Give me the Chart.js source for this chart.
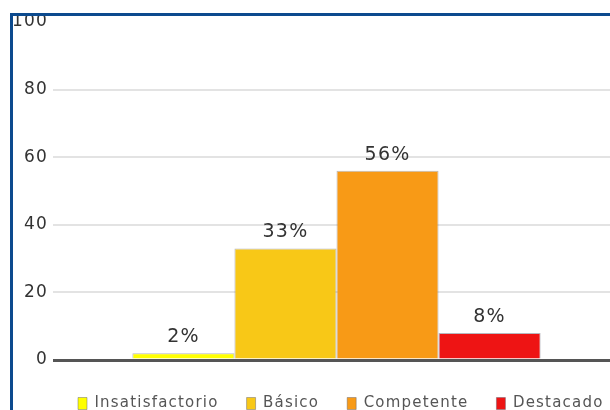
<!DOCTYPE html>
<html lang="es">

<head>
    <meta charset="UTF-8">
    <title>Niveles de logro</title>
    <style>
        body {
            margin: 0;
            background: #ffffff;
            overflow: hidden;
        }

        .marco {
            position: absolute;
            left: 10px;
            top: 13px;
            width: 700px;
            height: 500px;
            border: 3px solid #0c4a8e;
            pointer-events: none;
            z-index: 2;
        }

        .contenedor-grafico {
            position: absolute;
            left: 0;
            top: 0;
            width: 625px;
            height: 413px;
        }
    </style>
</head>

<body>
    <div class="marco"></div>
    <div class="contenedor-grafico">
        <canvas id="graficoNiveles"></canvas>
    </div>

    <script src="https://cdn.jsdelivr.net/npm/chart.js"></script>
    <script>
        const niveles = ['Insatisfactorio', 'Básico', 'Competente', 'Destacado'];
        const porcentajes = [2, 33, 56, 8];
        const coloresNivel = ['#ffff00', '#f8c817', '#f89a16', '#ee1414'];
        const ticksEjeY = [0, 20, 40, 60, 80, 100];

        // el texto del original sale algo espaciado
        const espaciado = {
            id: 'espaciado',
            beforeLayout(chart) {
                chart.ctx.letterSpacing = '1.2px';
            },
            afterLayout(chart) {
                // leyenda corrida a la derecha y un poco más abajo, como en la imagen
                const leyenda = chart.legend;
                leyenda.left += 50;
                leyenda.right += 50;
                leyenda.top += 8;
                leyenda.bottom += 8;
            },
            beforeDraw(chart) {
                chart.ctx.letterSpacing = '1.2px';
            }
        };

        // etiqueta con el porcentaje encima de cada barra
        const etiquetasPorcentaje = {
            id: 'etiquetasPorcentaje',
            afterDatasetsDraw(chart) {
                const ctx = chart.ctx;
                ctx.save();
                ctx.font = '19px "DejaVu Sans"';
                ctx.fillStyle = '#333333';
                ctx.textAlign = 'center';
                ctx.textBaseline = 'alphabetic';
                chart.data.datasets.forEach(function (dataset, i) {
                    const barra = chart.getDatasetMeta(i).data[0];
                    ctx.fillText(dataset.data[0] + '%', barra.x, barra.y - 11);
                });
                ctx.restore();
            }
        };

        const datasets = [];
        for (let i = 0; i < niveles.length; i++) {
            datasets.push({
                label: niveles[i],
                data: [porcentajes[i]],
                backgroundColor: coloresNivel[i],
                borderColor: 'rgba(95, 95, 110, 0.45)',
                borderWidth: 1
            });
        }

        const grafico = document.getElementById('graficoNiveles').getContext('2d');

        new Chart(grafico, {
            type: 'bar',
            data: {
                labels: [''],
                datasets: datasets
            },
            options: {
                responsive: true,
                maintainAspectRatio: false,
                animation: false,
                categoryPercentage: 0.72,
                barPercentage: 1,
                layout: {
                    padding: { left: 0, right: 5, top: 22, bottom: 0 }
                },
                plugins: {
                    tooltip: { enabled: false },
                    legend: {
                        position: 'bottom',
                        align: 'start',
                        labels: {
                            boxWidth: 9,
                            boxHeight: 12,
                            padding: 28,
                            color: '#555555',
                            font: { family: 'DejaVu Sans', size: 15 }
                        }
                    }
                },
                scales: {
                    x: {
                        display: false
                    },
                    y: {
                        min: 0,
                        max: 100,
                        afterFit: function (scale) {
                            scale.width = 53;
                        },
                        afterBuildTicks: function (scale) {
                            scale.ticks = ticksEjeY.map(function (v) { return { value: v }; });
                        },
                        border: { display: false },
                        grid: {
                            drawTicks: false,
                            color: function (context) {
                                if (context.tick.value === 0) return '#555555';
                                if (context.tick.value === 100) return 'rgba(0,0,0,0)';
                                return '#e3e3e3';
                            },
                            lineWidth: function (context) {
                                return context.tick.value === 0 ? 3 : 2;
                            }
                        },
                        ticks: {
                            padding: 5,
                            color: '#333333',
                            font: { family: 'DejaVu Sans', size: 17 }
                        }
                    }
                }
            },
            plugins: [espaciado, etiquetasPorcentaje]
        });
    </script>
</body>

</html>
